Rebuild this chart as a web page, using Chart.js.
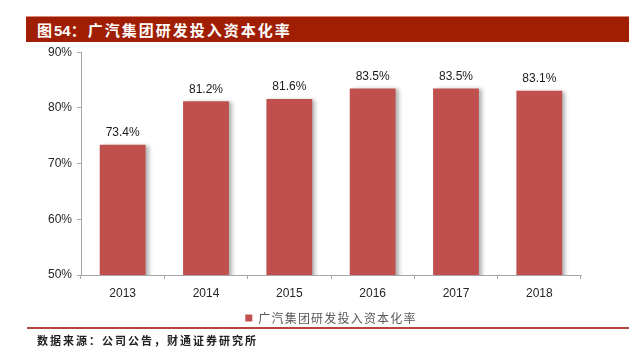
<!DOCTYPE html>
<html>
<head>
<meta charset="utf-8">
<script src="https://cdn.jsdelivr.net/npm/chart.js@4/dist/chart.umd.min.js"></script>
<style>
  html, body { margin: 0; padding: 0; background: #fff; }
  .page { position: relative; width: 629px; height: 353px; overflow: hidden; }
  .title {
    position: absolute; left: 26px; top: 16px; width: 603px; height: 26px;
    background: #a01f04; border-top: 1px solid #d98a7a;
    color: #fff; font: bold 15px "Noto Sans CJK SC", sans-serif; letter-spacing: 2px;
    line-height: 26px; padding-left: 11px; box-sizing: border-box;
  }
  .title .num { font-family: "Liberation Sans", Arial, sans-serif; letter-spacing: 0; }
  .box { position: absolute; left: 0; top: 40px; width: 629px; height: 294px; }
  .rule { position: absolute; left: 27px; top: 327px; width: 602px; height: 2px; background: #b5443a; }
  .source {
    position: absolute; left: 37px; top: 332px;
    font: bold 11px "Noto Sans CJK SC", sans-serif; letter-spacing: 2px; color: #222;
  }
</style>
</head>
<body>
<div class="page">
  <div class="title">图<span class="num">54</span>：广汽集团研发投入资本化率</div>
  <div class="box"><canvas id="chart"></canvas></div>
  <div class="rule"></div>
  <div class="source">数据来源：公司公告，财通证券研究所</div>
</div>
<script>
const years = ["2013", "2014", "2015", "2016", "2017", "2018"];
const capRate = [73.4, 81.2, 81.6, 83.5, 83.5, 83.1];
const seriesName = "广汽集团研发投入资本化率";
const yMin = 50, yMax = 90, yStep = 10;

const axisColor = "#a6a6a6";
const tickFont = { family: "Liberation Sans, Arial, sans-serif", size: 12 };

// legend text in the original is letter-spaced
const spacedLegend = {
  id: "spacedLegend",
  afterInit(chart) {
    const lg = chart.legend;
    if (!lg || lg._spaced) return;
    lg._spaced = true;
    const wrap = (name) => {
      const orig = lg[name].bind(lg);
      lg[name] = function (...args) {
        const ctx = chart.ctx;
        const prev = ctx.letterSpacing;
        ctx.letterSpacing = "1.2px";
        const r = orig(...args);
        ctx.letterSpacing = prev;
        return r;
      };
    };
    wrap("fit");
    wrap("draw");
  }
};

// bar shadow + value labels
const barLabels = {
  id: "barLabels",
  beforeDatasetsDraw(chart) {
    const ctx = chart.ctx;
    ctx.save();
    ctx.shadowColor = "rgba(0,0,0,0.3)";
    ctx.shadowBlur = 4;
    ctx.shadowOffsetX = 3;
    ctx.shadowOffsetY = 1;
  },
  afterDatasetsDraw(chart) {
    const ctx = chart.ctx;
    ctx.restore();
    const meta = chart.getDatasetMeta(0);
    ctx.save();
    ctx.font = "12px Liberation Sans, Arial, sans-serif";
    ctx.fillStyle = "#1a1a1a";
    ctx.textAlign = "center";
    ctx.textBaseline = "bottom";
    meta.data.forEach((bar, i) => {
      ctx.fillText(capRate[i].toFixed(1) + "%", bar.x, bar.y - 6);
    });
    ctx.restore();
  }
};

new Chart(document.getElementById("chart"), {
  type: "bar",
  data: {
    labels: years,
    datasets: [{
      label: seriesName,
      data: capRate,
      backgroundColor: "#c0504d",
      borderWidth: 0,
      categoryPercentage: 1,
      barPercentage: 0.55
    }]
  },
  options: {
    responsive: true,
    maintainAspectRatio: false,
    animation: false,
    layout: { padding: { top: 11, right: 48, left: 0, bottom: 0 } },
    plugins: {
      tooltip: { enabled: false },
      legend: {
        position: "bottom",
        fullSize: false,
        labels: {
          boxWidth: 7, boxHeight: 7, padding: 10, color: "#595959",
          font: { family: "Noto Sans CJK SC, sans-serif", size: 12 }
        }
      }
    },
    scales: {
      y: {
        min: yMin, max: yMax,
        ticks: { stepSize: yStep, color: "#262626", font: tickFont, padding: 5, callback: (v) => v + "%" },
        grid: { drawOnChartArea: false, tickLength: 4, color: axisColor },
        border: { color: axisColor },
        afterFit: (s) => { s.width = 81; }
      },
      x: {
        ticks: { color: "#262626", font: tickFont, padding: 7 },
        grid: { drawOnChartArea: false, tickLength: 4, color: axisColor, offset: true },
        border: { color: axisColor },
        afterFit: (s) => { s.height = 27; }
      }
    }
  },
  plugins: [spacedLegend, barLabels]
});
</script>
</body>
</html>
